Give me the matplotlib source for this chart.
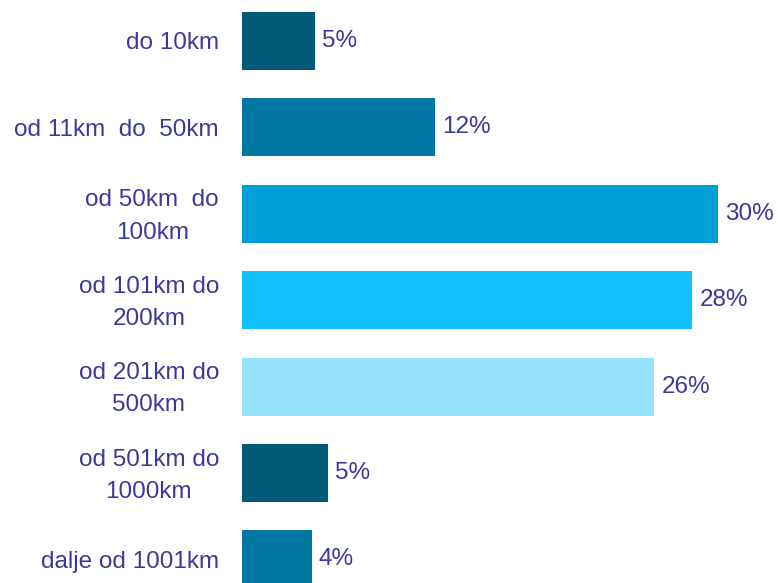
import matplotlib.pyplot as plt
import matplotlib.transforms as mtransforms

# distance categories (top to bottom) and shares in percent
categories = [
    'do 10km',
    'od 11km  do  50km',
    'od 50km  do\n100km',
    'od 101km do\n200km',
    'od 201km do\n500km',
    'od 501km do\n1000km',
    'dalje od 1001km',
]
values = [4.6, 12.2, 30.0, 28.4, 26.0, 5.4, 4.4]
value_labels = ['5%', '12%', '30%', '28%', '26%', '5%', '4%']
colors = ['#005a78', '#0077a2', '#009fd6', '#10c0fe', '#99e2fe', '#005a78', '#0077a2']

text_color = '#3a3a9a'
plt.rcParams['font.family'] = ['Liberation Sans', 'DejaVu Sans']

fig = plt.figure(figsize=(7.78, 5.83), dpi=100)
ax = fig.add_axes([242 / 778, 0, 536 / 778, 1])

y = list(range(len(categories)))
ax.barh(y, values, height=0.67, color=colors)

for yi, v, lab in zip(y, values, value_labels):
    ax.text(v + 0.45, yi, lab, va='center', ha='left', fontsize=17.5, color=text_color)

ax.set_xlim(0, 33.8)
ax.set_ylim(6.273, -0.4745)
ax.set_yticks(y)
ax.set_yticklabels(categories, fontsize=17.5, color=text_color,
                   multialignment='center', linespacing=1.6)
ax.tick_params(axis='y', length=0, pad=16.5)
ax.set_xticks([])
for s in ax.spines.values():
    s.set_visible(False)

# nudge the two-line labels up a little
shift = mtransforms.ScaledTranslation(0, 5 / 100, fig.dpi_scale_trans)
for t in ax.get_yticklabels():
    if '\n' in t.get_text():
        t.set_transform(t.get_transform() + shift)

fig.savefig('out.png', dpi=100)
